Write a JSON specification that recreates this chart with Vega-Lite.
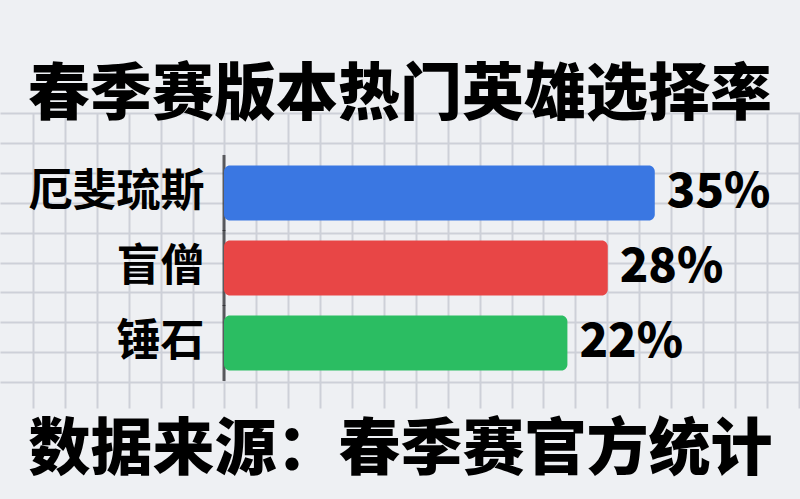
{
  "$schema": "https://vega.github.io/schema/vega-lite/v6.json",
  "autosize": "none",
  "width": 800,
  "height": 295,
  "padding": {"top": 113, "left": 0, "right": 0, "bottom": 91},
  "background": "#eef0f3",
  "config": {"view": {"stroke": null}, "font": "Noto Sans CJK SC"},
  "title": {
    "text": "春季赛版本热门英雄选择率",
    "font": "Noto Sans CJK SC",
    "fontSize": 62,
    "fontWeight": 900,
    "color": "#000000",
    "anchor": "middle",
    "offset": -18
  },
  "data": {
    "values": [
      {"hero": "厄斐琉斯", "rate": 0.35},
      {"hero": "盲僧", "rate": 0.28},
      {"hero": "锤石", "rate": 0.22}
    ]
  },
  "layer": [
    {
      "mark": {"type": "point", "opacity": 0},
      "encoding": {
        "x": {
          "datum": 0, "type": "quantitative",
          "scale": {"domain": [-1.034, 24.04], "nice": false, "zero": false},
          "axis": {"orient": "top", "values": [0,1,2,3,4,5,6,7,8,9,10,11,12,13,14,15,16,17,18,19,20,21,22,23,24],
                   "grid": true, "gridColor": "#cdd0d8", "gridWidth": 2,
                   "labels": false, "ticks": false, "domain": false, "title": null}
        },
        "y": {
          "datum": 0, "type": "quantitative",
          "scale": {"domain": [0, 9.866], "nice": false, "zero": false, "reverse": true},
          "axis": {"orient": "right", "values": [0,1,2,3,4,5,6,7,8,9],
                   "grid": true, "gridColor": "#cdd0d8", "gridWidth": 2,
                   "labels": false, "ticks": false, "domain": false, "title": null}
        }
      }
    },
    {
      "encoding": {
        "y": {
          "field": "hero", "type": "nominal", "sort": null,
          "scale": {"paddingInner": 0.267, "paddingOuter": 0.6, "align": 0.583},
          "axis": {"orient": "left", "title": null, "domain": false, "ticks": false, "tickSize": 0,
                   "grid": false, "labelPadding": -204, "labelAlign": "right", "labelLimit": 0,
                   "labelFont": "Noto Sans CJK SC", "labelFontSize": 44, "labelFontWeight": "bold",
                   "labelColor": "#000000"}
        },
        "x": {
          "field": "rate", "type": "quantitative",
          "scale": {"domain": [-0.6243, 0.5661], "nice": false, "zero": false},
          "axis": {"orient": "bottom", "labels": false, "ticks": false, "domain": false, "grid": false,
                   "title": "数据来源：春季赛官方统计", "titleFont": "Noto Sans CJK SC",
                   "titleFontSize": 62, "titleFontWeight": 900, "titleColor": "#000000",
                   "titlePadding": 12}
        }
      },
      "layer": [
        {
          "mark": {"type": "tick", "orient": "vertical", "size": 76, "thickness": 3, "color": "#222226"},
          "encoding": {"x": {"datum": -0.291}}
        },
        {
          "mark": {"type": "bar", "cornerRadius": 6},
          "encoding": {
            "x2": {"datum": -0.291},
            "color": {
              "field": "hero", "type": "nominal",
              "scale": {"domain": ["厄斐琉斯", "盲僧", "锤石"], "range": ["#3a77e2", "#e84646", "#2bbd62"]},
              "legend": null
            }
          }
        },
        {
          "mark": {"type": "text", "align": "left", "baseline": "middle", "dx": 12,
                   "font": "Noto Sans CJK SC", "fontSize": 47, "fontWeight": 900, "color": "#000000"},
          "encoding": {"text": {"field": "rate", "type": "quantitative", "format": ".0%"}}
        }
      ]
    }
  ],
  "resolve": {"scale": {"x": "independent", "y": "independent"}}
}
